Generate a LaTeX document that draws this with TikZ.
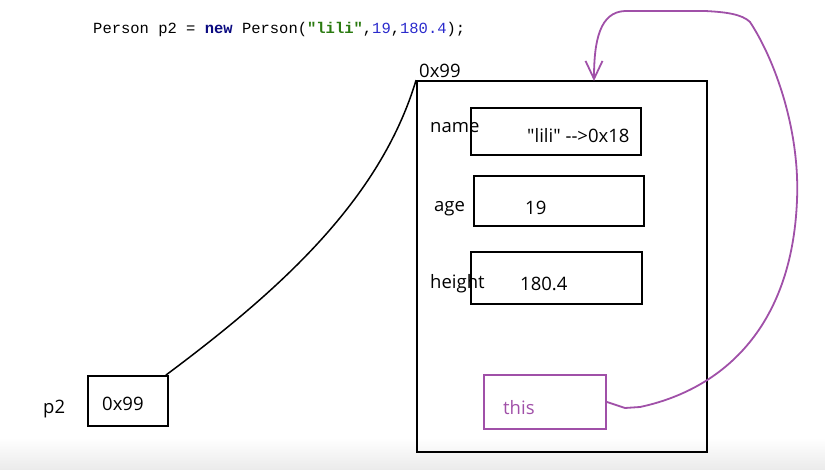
\documentclass[tikz,border=0pt]{standalone}
\usepackage{fontspec}
\setmainfont{Open Sans}[Ligatures=TeXOff]
\setmonofont{Liberation Mono}[Ligatures=TeXOff]
\usetikzlibrary{arrows.meta}
\definecolor{kwc}{HTML}{0A0A80}
\definecolor{strc}{HTML}{2A7A10}
\definecolor{numc}{HTML}{2A2ACC}
\definecolor{thisc}{HTML}{A050A8}
\tikzset{
  cell/.style={draw, line width=1.8pt, inner sep=0pt},
  lbl/.style={anchor=west, inner sep=0pt, font=\fontsize{18.5}{20}\selectfont},
  codetxt/.style={anchor=west, inner sep=0pt, font=\ttfamily\fontsize{15.5}{18}\selectfont},
  link/.style={line width=1.5pt},
  thislink/.style={line width=1.8pt, draw=thisc, -{Straight Barb[length=18pt,width=17pt,line width=1.8pt]}}
}
\begin{document}
\begin{tikzpicture}[x=1pt,y=-1pt]
\useasboundingbox (0,0) rectangle (825,470);
\shade[top color=white, bottom color=black!8] (0,438) rectangle (825,470);
\node[codetxt] (code) at (93,29) {Person p2 = \textcolor{kwc}{\textbf{new}} Person(\textcolor{strc}{\textbf{\symbol{34}lili\symbol{34}}},\textcolor{numc}{19},\textcolor{numc}{180.4});};
% heap object
\node[cell, minimum width=290pt, minimum height=371pt] (heap) at (562,266.5) {};
\node[lbl] (addr) at (419,71) {0x99};
\node[cell, minimum width=170pt, minimum height=47pt] (namebox) at (556,131.5) {};
\node[lbl] (namel) at (430,128) {name};
\node[lbl] (namev) at (527,136) {\symbol{34}lili\symbol{34} -{}-{}>0x18};
\node[cell, minimum width=170pt, minimum height=50pt] (agebox) at (559,201) {};
\node[lbl] (agel) at (434,209) {age};
\node[lbl] (agev) at (525,208) {19};
\node[cell, minimum width=171pt, minimum height=52pt] (heightbox) at (556.5,278) {};
\node[lbl] (heightl) at (430,284) {height};
\node[lbl] (heightv) at (520,284) {180.4};
\node[cell, draw=thisc, minimum width=122pt, minimum height=54pt] (thisbox) at (545,402) {};
\node[lbl, text=thisc] (thisl) at (503,408) {this};
% stack
\node[cell, minimum width=80pt, minimum height=50pt] (p2box) at (128,401) {};
\node[lbl] (p2v) at (102,404) {0x99};
\node[lbl] (p2l) at (43,409) {p2};
% connectors
\draw[link] ([xshift=-3pt]p2box.north east) .. controls (280,290) and (380,200) .. (heap.north west);
\coordinate (tgt) at (594,81);
\draw[thislink] (thisbox.east) -- (625,408) -- (640,407) .. controls (720,390) and (792,330) .. (797,200)
  .. controls (800,130) and (775,60) .. (750,22) .. controls (742,14) and (725,12) .. (705,11) -- (625,11)
  .. controls (600,12) and (594,40) .. (tgt);
\end{tikzpicture}
\end{document}
